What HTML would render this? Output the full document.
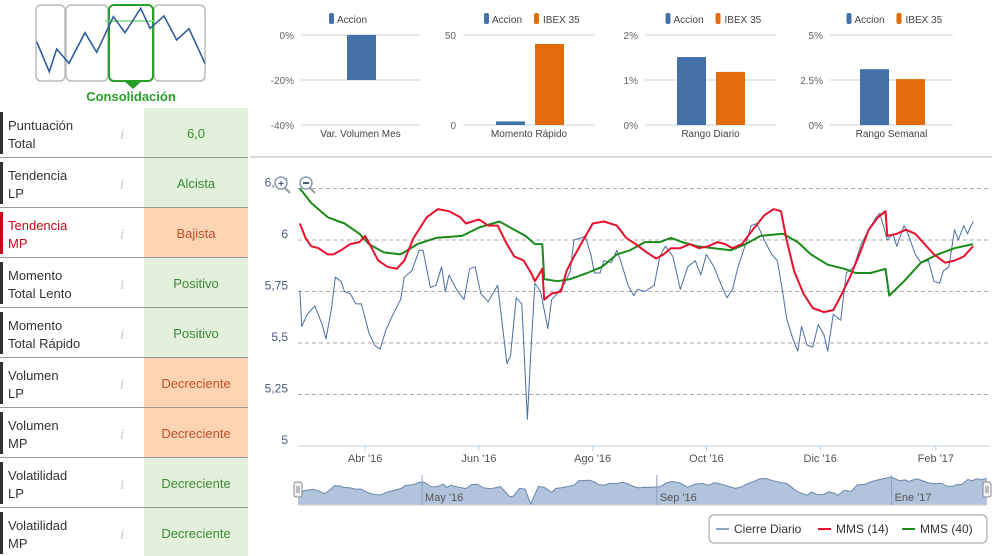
<!DOCTYPE html>
<html><head><meta charset="utf-8"><style>
body{margin:0;width:992px;height:556px;overflow:hidden;background:#fff;font-family:"Liberation Sans",sans-serif;}
svg{position:absolute;left:0;top:0}
</style></head><body>
<svg id="s" width="992" height="556" font-family="Liberation Sans, sans-serif">
<g>
<rect x="36" y="5" width="29" height="76" rx="5" fill="#fff" stroke="#bbb" stroke-width="1.5"/>
<rect x="66" y="5" width="42" height="76" rx="5" fill="#fff" stroke="#bbb" stroke-width="1.5"/>
<rect x="154" y="5" width="51" height="76" rx="5" fill="#fff" stroke="#bbb" stroke-width="1.5"/>
<rect x="109" y="5" width="44" height="76" rx="5" fill="#fff" stroke="#2a9d2a" stroke-width="2"/>
<polygon points="124,81 142,81 133,89" fill="#2a9d2a"/>
<line x1="105" y1="21" x2="155" y2="21" stroke="#7ed47e" stroke-width="1.5"/>
<polyline points="36.7,41.7 49.3,71.7 56.7,49 69,63.3 85,32.7 96.7,52.3 113.3,16.7 125,32.7 140.7,8.3 150,28.3 164,16 176.7,40 189,28.7 205,63.3" fill="none" stroke="#2f5e9e" stroke-width="1.6"/>
<text x="131" y="101" text-anchor="middle" font-size="13" font-weight="bold" fill="#2a9d2a">Consolidación</text>
</g>
<g id="table"></g>
<g id="minis"></g>
<line x1="250" y1="157" x2="992" y2="157" stroke="#bbb"/>
<g id="main"></g>
<g><circle cx="281" cy="183" r="6" fill="#fff" stroke="#8a9ab5" stroke-width="1.5"/><text x="281" y="187" text-anchor="middle" font-size="10" fill="#4a5a7a" font-weight="bold">+</text><line x1="285" y1="188" x2="290" y2="193" stroke="#999" stroke-width="2"/></g>
<g><circle cx="306" cy="183" r="6" fill="#fff" stroke="#8a9ab5" stroke-width="1.5"/><line x1="303" y1="183" x2="309" y2="183" stroke="#4a5a7a" stroke-width="2"/><line x1="310" y1="188" x2="315" y2="193" stroke="#999" stroke-width="2"/></g>
</svg>
<script>
const NS="http://www.w3.org/2000/svg";
function mk(p,t,a){const e=document.createElementNS(NS,t);for(const k in a)e.setAttribute(k,a[k]);p.appendChild(e);return e;}
function tx(p,x,y,s,a){const e=mk(p,'text',Object.assign({x:x,y:y},a));e.textContent=s;return e;}

// ---- table ----
const rowLabels1=["Puntuación","Tendencia","Tendencia","Momento","Momento","Volumen","Volumen","Volatilidad","Volatilidad"];
const rowLabels2=["Total","LP","MP","Total Lento","Total Rápido","LP","MP","LP","MP"];
const rowValues=["6,0","Alcista","Bajista","Positivo","Positivo","Decreciente","Decreciente","Decreciente","Decreciente"];
const rowGood=[1,1,0,1,1,0,0,1,1];
const T=document.getElementById('table');
rowValues.forEach((v,i)=>{
  const y=108+50*i;
  const g=mk(T,'g',{});
  
  
  const red=(i==2);
  mk(g,'rect',{x:0,y:y+4,width:3,height:42,fill:red?'#d0021b':'#333'});
  const l=mk(g,'text',{x:8,y:y+22,'font-size':13,fill:red?'#d0021b':'#333'});
  
  
  mk(l,'tspan',{x:8}).textContent=rowLabels1[i];
  mk(l,'tspan',{x:8,dy:18}).textContent=rowLabels2[i];
  const ic=tx(g,122,y+31,'i',{'font-size':15,'font-style':'italic','font-family':'Liberation Serif, serif',fill:'#c8c8c8','text-anchor':'middle'});
  
  
  mk(g,'rect',{x:144,y:y,width:104,height:49,fill:rowGood[i]?'#e2f0dc':'#fcd4b4'});
  const vt=tx(g,196,y+30,v,{'font-size':13,'text-anchor':'middle',fill:rowGood[i]?'#3d8b37':'#c0502a'});
  
  
  mk(g,'line',{x1:0,y1:y+49.5,x2:248,y2:y+49.5,stroke:'#999'});
});

// ---- mini bar charts ----
const miniTitles=["Var. Volumen Mes","Momento Rápido","Rango Diario","Rango Semanal"];
const miniAccion=[-20,2,1.51,3.1];
const miniIbex=[null,45,1.18,2.55];
const miniTicks=[["0%","-20%","-40%"],["50","0"],["2%","1%","0%"],["5%","2.5%","0%"]];
const miniMax=[0,50,2,5];
const miniMin=[-40,0,0,0];
const M=document.getElementById('minis');
const gx=[[301,420],[463,595],[645,776],[830,953]];
const bars=[[347],[496,535],[677,716],[860,896]];
miniTitles.forEach((t,i)=>{
  const g=mk(M,'g',{});
  
  
  const y=v=>35+(miniMax[i]-v)/(miniMax[i]-miniMin[i])*90;
  const tk=miniTicks[i];
  tk.forEach((s,j)=>{const yy=35+90*j/(tk.length-1);
    mk(g,'line',{x1:gx[i][0],y1:yy,x2:gx[i][1],y2:yy,stroke:'#c8d0dc'});
    tx(g,gx[i][0]-7,yy+4,s,{'font-size':10,fill:'#666','text-anchor':'end'});});
  const y0=y(Math.max(miniMin[i],0)>miniMax[i]?miniMax[i]:Math.min(Math.max(0,miniMin[i]),miniMax[i]));
  const vals=[miniAccion[i],miniIbex[i]];
  vals.forEach((v,k)=>{if(v==null)return;
    const r=mk(g,'rect',{x:bars[i][k],y:Math.min(y(v),y0),width:29,height:Math.abs(y(v)-y0),fill:k?'#e36c0a':'#4472a8'});
    
    });
  const cx=(gx[i][0]+gx[i][1])/2;
  tx(g,cx,137,t,{'font-size':10,fill:'#444','text-anchor':'middle'});
  const lx=vals[1]==null?329:cx-45;
  mk(g,'rect',{x:lx,y:13,width:5,height:11,rx:2,fill:'#4472a8'});
  tx(g,lx+8,23,'Accion',{'font-size':10,fill:'#444'});
  if(vals[1]!=null){mk(g,'rect',{x:lx+50,y:13,width:5,height:11,rx:2,fill:'#e36c0a'});tx(g,lx+59,23,'IBEX 35',{'font-size':10,fill:'#444'});}
});

// ---- main chart ----
const closeDays=[1,2,5,9,13,15,18,20,23,25,28,31,34,38,41,44,47,51,55,57,61,65,67,71,74,77,79,81,85,89,92,95,98,102,107,108,112,114,117,120,123,125,127,130,134,136,139,143,146,148,152,154,157,159,162,164,168,171,173,177,180,182,186,191,194,197,201,205,209,213,216,219,223,227,230,233,236,240,243,246,250,254,257,260,262,265,268,270,273,276,279,282,284,287,291,294,298,302,306,310,312,316,319,321,325,327,331,334,338,341,344,346,349,352,354,357,359,362];
const closeVals=[5.755,5.58,5.64,5.68,5.59,5.52,5.67,5.82,5.80,5.75,5.74,5.69,5.69,5.55,5.49,5.47,5.56,5.64,5.71,5.82,5.85,5.95,5.95,5.77,5.78,5.87,5.75,5.83,5.76,5.71,5.86,5.87,5.74,5.70,5.78,5.71,5.40,5.44,5.72,5.69,5.13,5.48,5.79,5.75,5.57,5.71,5.74,5.79,5.85,6.0,6.01,6.02,5.93,5.84,5.84,5.90,5.89,5.95,5.90,5.78,5.73,5.76,5.75,5.78,5.92,5.97,5.92,5.76,5.87,5.90,5.83,5.93,5.87,5.78,5.72,5.76,5.87,5.98,6.07,6.08,6.0,5.93,5.90,5.74,5.62,5.53,5.46,5.58,5.49,5.48,5.59,5.54,5.46,5.64,5.61,5.84,5.87,5.98,6.05,6.11,6.13,6.0,6.03,5.97,6.07,6.03,5.93,5.89,5.90,5.80,5.79,5.85,5.87,6.05,6.0,6.07,6.03,6.09];
const mms14Days=[1,4,7,11,16,19,23,28,33,36,39,43,48,53,57,62,69,75,81,87,90,97,102,107,112,116,121,125,127,131,132,136,141,144,148,153,158,164,171,176,181,187,192,196,200,205,210,215,220,225,229,233,238,243,250,255,259,262,266,271,276,282,287,290,296,301,306,311,315,316,321,326,331,336,341,347,352,357,362];
const mms14Vals=[6.08,6.01,5.97,5.96,5.93,5.93,5.95,5.98,5.99,6.02,5.97,5.90,5.87,5.86,5.90,6.01,6.11,6.15,6.14,6.11,6.08,6.10,6.07,6.07,5.98,5.92,5.90,5.84,5.80,5.86,5.71,5.74,5.75,5.85,5.92,6.0,6.08,6.09,6.07,6.01,5.98,5.94,5.91,5.93,5.96,5.96,5.98,5.96,5.97,5.99,5.98,5.96,5.98,6.04,6.12,6.15,6.14,6.0,5.85,5.74,5.67,5.65,5.66,5.71,5.82,5.93,6.05,6.11,6.14,6.02,6.03,6.05,6.03,5.98,5.93,5.89,5.90,5.92,5.97];
const mms40Days=[1,7,16,25,33,38,46,55,64,74,88,97,108,116,122,127,131,132,139,146,155,163,171,178,186,194,200,206,214,223,232,240,248,260,268,275,284,293,299,307,315,317,325,334,343,352,362];
const mms40Vals=[6.25,6.18,6.11,6.08,6.03,5.98,5.94,5.93,5.98,6.01,6.02,6.06,6.09,6.05,6.02,5.98,5.98,5.81,5.80,5.81,5.84,5.87,5.93,5.95,5.99,5.99,6.01,5.99,5.97,5.96,5.95,5.98,6.02,6.03,5.99,5.93,5.88,5.86,5.84,5.84,5.86,5.73,5.80,5.89,5.93,5.96,5.98];
const yTicks=[5,5.25,5.5,5.75,6,6.25];
const yTickLabels=["5","5,25","5,5","5,75","6","6,25"];
const xTickDays=[36,97,158,219,280,342];
const xTickLabels=["Abr '16","Jun '16","Ago '16","Oct '16","Dic '16","Feb '17"];
const navTickDays=[66,189,312];
const navTickLabels=["May '16","Sep '16","Ene '17"];

const G=document.getElementById('main');
const X=d=>298+d*1.865;
const Y=v=>240-(v-6)*206;
yTicks.forEach((v,i)=>{
  if(v>5){const l=mk(G,'line',{x1:298,y1:Y(v),x2:990,y2:Y(v),stroke:'#aaa','stroke-dasharray':'4,3'});
    }
  const t=tx(G,288,Y(v)-2,yTickLabels[i],{'font-size':12,fill:'#4a5a7a','text-anchor':'end'});
  
});
mk(G,'line',{x1:298,y1:446,x2:990,y2:446,stroke:'#c0d0e0'});
xTickDays.forEach((d,i)=>{
  mk(G,'line',{x1:X(d),y1:446,x2:X(d),y2:451,stroke:'#c0d0e0'});
  const t=tx(G,X(d),462,xTickLabels[i],{'font-size':11,fill:'#555','text-anchor':'middle'});
  
});
function line(days,vals,col,w,name){
  const p=mk(G,'polyline',{points:days.map((d,i)=>X(d).toFixed(1)+','+Y(vals[i]).toFixed(1)).join(' '),fill:'none',stroke:col,'stroke-width':w,'stroke-linejoin':'round'});
  
}
line(closeDays,closeVals,'#4a6fa0',1,'series-cierre-diario');
line(mms40Days,mms40Vals,'#1a8a1a',2,'series-mms-40');
line(mms14Days,mms14Vals,'#e8112d',2,'series-mms-14');

// navigator
const nav=mk(G,'g',{});


const NX=d=>298+(d-1)*(689/361);
const NY=v=>505-(v-5.1)*27;
let pts=closeDays.map((d,i)=>NX(d).toFixed(1)+','+NY(closeVals[i]).toFixed(1));
mk(nav,'polygon',{points:'298,505 '+pts.join(' ')+' 987,505',fill:'#b2c4dc',stroke:'none'});
mk(nav,'polyline',{points:pts.join(' '),fill:'none',stroke:'#6b86ad','stroke-width':1});
mk(nav,'line',{x1:298,y1:505,x2:987,y2:505,stroke:'#ccc'});
navTickDays.forEach((d,i)=>{mk(nav,'line',{x1:NX(d),y1:475,x2:NX(d),y2:505,stroke:'#8da0bd'});
  tx(nav,NX(d)+3,501,navTickLabels[i],{'font-size':11,fill:'#555'});});
[298,987].forEach(x=>{const h=mk(nav,'rect',{x:x-4,y:482,width:8,height:15,rx:2,fill:'#f2f2f2',stroke:'#888'});
  
  mk(nav,'line',{x1:x-1,y1:486,x2:x-1,y2:493,stroke:'#888'});mk(nav,'line',{x1:x+1,y1:486,x2:x+1,y2:493,stroke:'#888'});});

// legend
const lg=mk(G,'g',{});


mk(lg,'rect',{x:709,y:515,width:278,height:28,rx:5,fill:'#fff',stroke:'#999'});
const leg=[["Cierre Diario",'#8da6c8',716],["MMS (14)",'#e8112d',818],["MMS (40)",'#1a8a1a',902]];
leg.forEach(l=>{const e=mk(lg,'g',{});
  
  mk(e,'line',{x1:l[2],y1:529,x2:l[2]+13,y2:529,stroke:l[1],'stroke-width':2});
  tx(e,l[2]+18,533,l[0],{'font-size':12,fill:'#333'});});
</script>
</body></html>
